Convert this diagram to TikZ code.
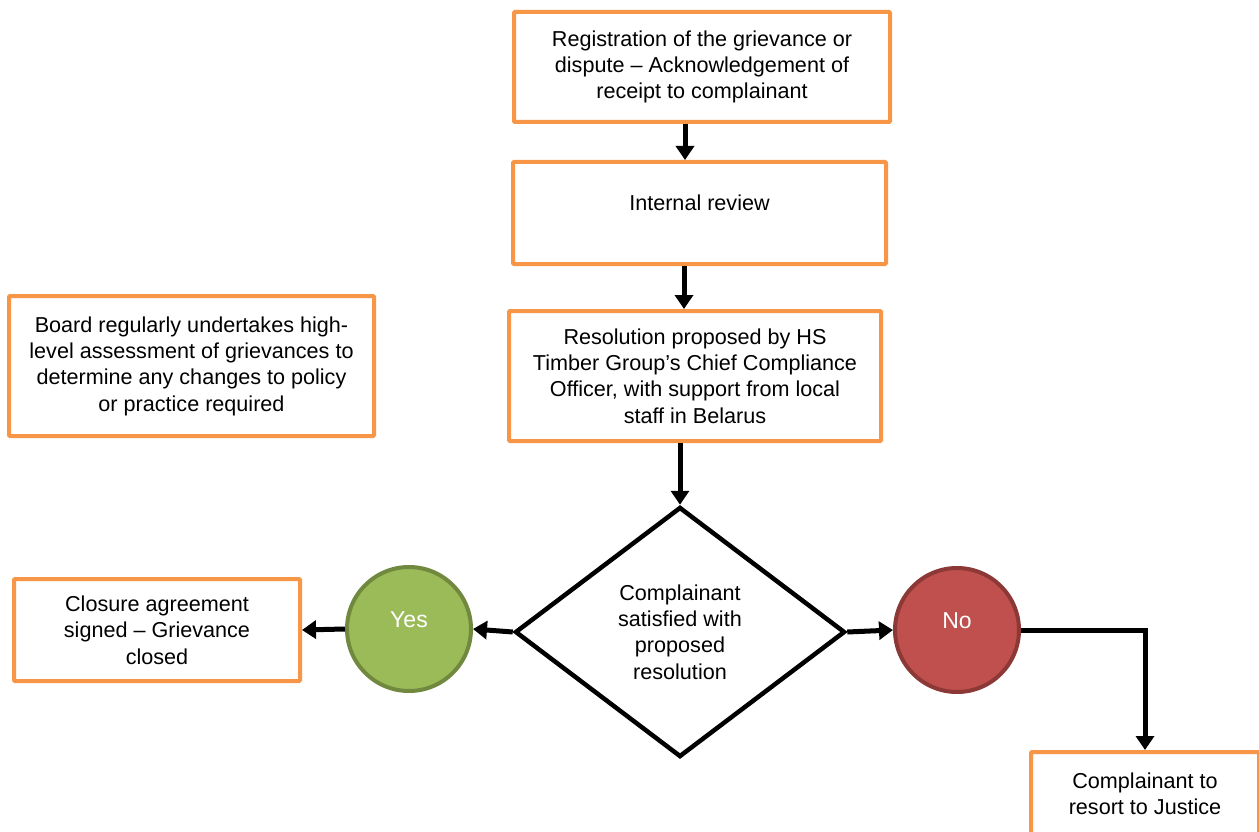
\documentclass[tikz,border=0pt]{standalone}
\usepackage{fontspec}
\setmainfont{Liberation Sans}
\usetikzlibrary{arrows.meta,shapes.geometric}
\definecolor{boxorange}{HTML}{F79646}
\definecolor{yesgreen}{HTML}{9BBB59}
\definecolor{yesedge}{HTML}{71893F}
\definecolor{nored}{HTML}{C0504D}
\definecolor{noedge}{HTML}{8C3836}

\begin{document}
\begin{tikzpicture}[x=1pt,y=-1pt,
   font=\fontsize{21.6}{26.3}\selectfont,
   stepbox/.style={draw=boxorange,line width=4pt,fill=white,align=center,inner sep=0pt,rounded corners=1pt},
   choice/.style={diamond,draw=black,line width=4.5pt,align=center,inner sep=0pt},
   answer/.style={circle,line width=4pt,text=white,minimum size=124pt,inner sep=0pt,
      font=\fontsize{23}{26.3}\selectfont,text depth=19pt},
   arr/.style={line width=5pt,-{Triangle[length=14pt,width=18pt]}}]
   \useasboundingbox (0,0) rectangle (1259,832);
   % process steps
   \node[stepbox,minimum width=376pt,minimum height=110pt] (reg) at (702,67)
      {Registration of the grievance or\\dispute -- Acknowledgement of\\receipt to complainant};
   \node[stepbox,minimum width=373pt,minimum height=102pt,text depth=21pt] (review) at (699.5,213) {Internal review};
   \node[stepbox,minimum width=372pt,minimum height=130pt] (resolution) at (695,376)
      {Resolution proposed by HS\\Timber Group’s Chief Compliance\\Officer, with support from local\\staff in Belarus};
   \node[stepbox,minimum width=365pt,minimum height=140pt] (board) at (191.5,366)
      {Board regularly undertakes high-\\level assessment of grievances to\\determine any changes to policy\\or practice required};
   % decision and outcomes
   \node[choice,minimum width=330pt,minimum height=250pt] (decision) at (680,632)
      {Complainant\\satisfied with\\proposed\\resolution};
   \node[answer,fill=yesgreen,draw=yesedge] (yes) at (409,629) {Yes};
   \node[answer,fill=nored,draw=noedge] (no) at (957,630) {No};
   \node[stepbox,minimum width=286pt,minimum height=102pt] (closure) at (157,630)
      {Closure agreement\\signed -- Grievance\\closed};
   \node[stepbox,minimum width=228pt,minimum height=84pt] (justice) at (1145,794)
      {Complainant to\\resort to Justice};
   % connectors
   \draw[arr] (reg.south -| 685,0) -- (review.north -| 685,0);
   \draw[arr] (review.south -| 684,0) -- (resolution.north -| 684,0);
   \draw[arr] (resolution.south -| decision.north) -- (decision.north);
   \draw[arr] (decision.west) -- (yes.east);
   \draw[arr] (yes.west) -- (closure.east);
   \draw[arr] (decision.east) -- (no.west);
   \draw[arr] (no.east) -| (justice.north);
\end{tikzpicture}
\end{document}
